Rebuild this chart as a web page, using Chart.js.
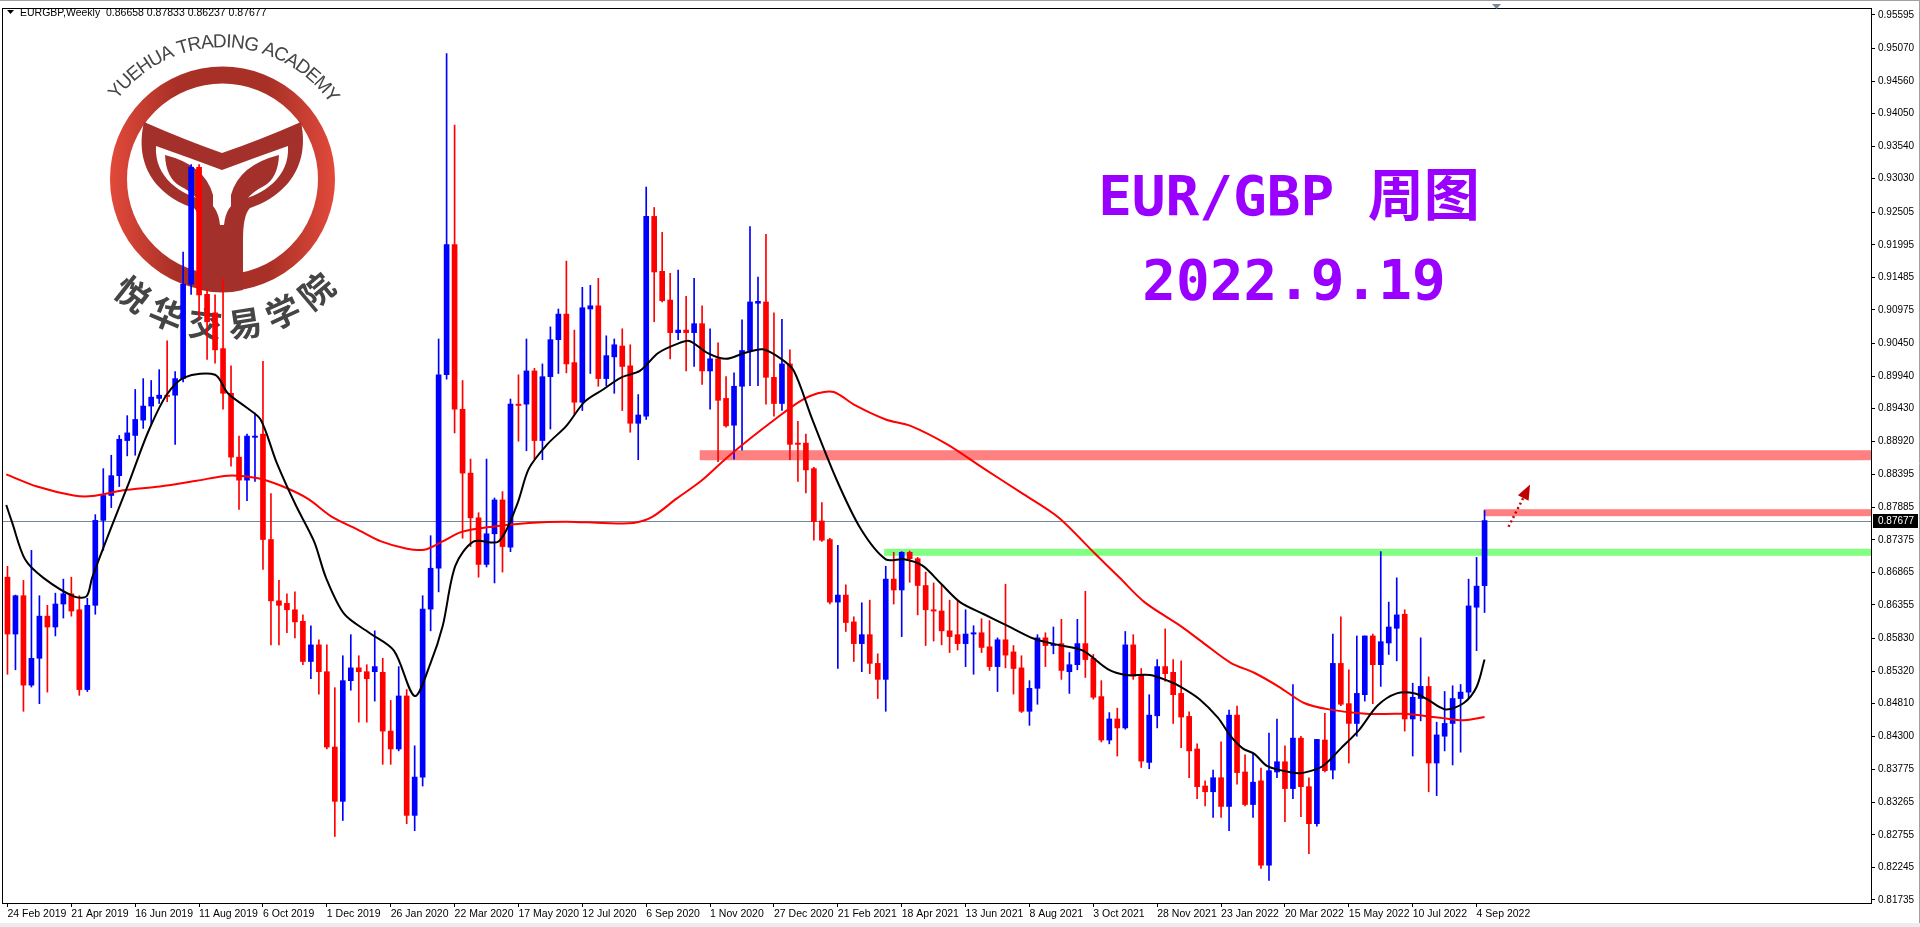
<!DOCTYPE html>
<html><head><meta charset="utf-8">
<script src="https://cdn.jsdelivr.net/npm/chart.js@4.4.1/dist/chart.umd.min.js"></script>
<style>html,body{margin:0;padding:0;background:#fff;overflow:hidden}#wrap{width:1920px;height:927px}</style>
</head><body><div id="wrap"><canvas id="c" width="1920" height="927"></canvas></div>
<script>
const opens=[0.8679,0.8590,0.8650,0.8510,0.8552,0.8618,0.8601,0.8637,0.8653,0.8628,
0.8503,0.8635,0.8768,0.8807,0.8838,0.8893,0.8901,0.8925,0.8947,0.8959,
0.8964,0.8964,0.8990,0.9138,0.9321,0.9122,0.9093,0.9037,0.8967,0.8867,
0.8831,0.8898,0.8903,0.8738,0.8642,0.8638,0.8628,0.8610,0.8547,0.8573,
0.8531,0.8413,0.8328,0.8517,0.8537,0.8531,0.8531,0.8530,0.8438,0.8410,
0.8493,0.8306,0.8366,0.8629,0.8693,0.8996,0.9200,0.8942,0.8842,0.8772,
0.8699,0.8747,0.8800,0.8726,0.8950,0.8950,0.9002,0.8893,0.8993,0.9051,
0.9091,0.9015,0.8953,0.9099,0.9104,0.8990,0.9024,0.9041,0.9010,0.8920,
0.8931,0.9244,0.9158,0.9113,0.9062,0.9066,0.9062,0.9076,0.9002,0.9021,
0.8959,0.8917,0.8978,0.9034,0.9108,0.9110,0.8992,0.8951,0.9013,0.8889,
0.8889,0.8849,0.8767,0.8738,0.8640,0.8651,0.8609,0.8575,0.8589,0.8544,
0.8519,0.8676,0.8659,0.8718,0.8708,0.8666,0.8628,0.8626,0.8595,0.8589,
0.8575,0.8590,0.8592,0.8570,0.8539,0.8581,0.8562,0.8537,0.8469,0.8505,
0.8584,0.8572,0.8575,0.8531,0.8542,0.8575,0.8552,0.8492,0.8424,0.8457,
0.8443,0.8573,0.8527,0.8389,0.8462,0.8539,0.8530,0.8497,0.8461,0.8410,
0.8352,0.8343,0.8365,0.8320,0.8463,0.8374,0.8323,0.8360,0.8228,0.8374,
0.8390,0.8348,0.8427,0.8351,0.8293,0.8424,0.8377,0.8544,0.8481,0.8450,
0.8495,0.8587,0.8542,0.8576,0.8599,0.8621,0.8457,0.8489,0.8508,0.8388,
0.8430,0.8450,0.8489,0.8499,0.8632,0.86658];
const highs=[0.8696,0.8651,0.8674,0.8721,0.8650,0.8635,0.8654,0.8676,0.8679,0.8650,
0.8646,0.8777,0.8849,0.8870,0.8901,0.8932,0.8973,0.8990,0.8987,0.9004,
0.9049,0.9001,0.9188,0.9325,0.9325,0.9130,0.9121,0.9146,0.9010,0.8900,
0.8903,0.8936,0.9017,0.8810,0.8674,0.8653,0.8656,0.8620,0.8603,0.8581,
0.8573,0.8506,0.8556,0.8589,0.8556,0.8542,0.8595,0.8552,0.8486,0.8539,
0.8503,0.8415,0.8650,0.8744,0.9052,0.9499,0.9387,0.8987,0.8864,0.8780,
0.8864,0.8803,0.8813,0.8958,0.8996,0.9052,0.9006,0.9013,0.9071,0.9099,
0.9174,0.9066,0.9133,0.9136,0.9147,0.9057,0.9052,0.9068,0.9043,0.8965,
0.9290,0.9258,0.9219,0.9155,0.9160,0.9119,0.9147,0.9104,0.9068,0.9046,
0.8993,0.8999,0.9082,0.9228,0.9149,0.9216,0.9093,0.9083,0.9035,0.8923,
0.8903,0.8851,0.8796,0.8740,0.8729,0.8667,0.8617,0.8639,0.8643,0.8559,
0.8696,0.8718,0.8719,0.8720,0.8710,0.8687,0.8670,0.8667,0.8643,0.8642,
0.8628,0.8603,0.8614,0.8611,0.8584,0.8668,0.8572,0.8556,0.8517,0.8589,
0.8592,0.8601,0.8613,0.8561,0.8613,0.8657,0.8558,0.8517,0.8467,0.8474,
0.8594,0.8589,0.8536,0.8495,0.8550,0.8598,0.8550,0.8548,0.8468,0.8418,
0.8360,0.8377,0.8421,0.8471,0.8477,0.8401,0.8404,0.8380,0.8435,0.8457,
0.8415,0.8511,0.8430,0.8365,0.8425,0.8466,0.8590,0.8617,0.8534,0.8587,
0.8587,0.8590,0.8719,0.8640,0.8678,0.8628,0.8513,0.8584,0.8523,0.8452,
0.8500,0.8509,0.8511,0.8676,0.8710,0.87833];
const lows=[0.8527,0.8534,0.8469,0.8507,0.8481,0.8499,0.8587,0.8615,0.8618,0.8494,
0.8500,0.8621,0.8721,0.8788,0.8821,0.8869,0.8870,0.8912,0.8918,0.8951,
0.8954,0.8887,0.8985,0.9122,0.9085,0.9020,0.9014,0.8942,0.8853,0.8785,
0.8799,0.8829,0.8691,0.8573,0.8573,0.8592,0.8584,0.8542,0.8520,0.8496,
0.8410,0.8273,0.8298,0.8502,0.8452,0.8452,0.8485,0.8386,0.8386,0.8407,
0.8293,0.8282,0.8352,0.8595,0.8656,0.8989,0.8905,0.8740,0.8727,0.8679,
0.8695,0.8670,0.8687,0.8719,0.8892,0.8877,0.8864,0.8863,0.8911,0.8998,
0.8999,0.8934,0.8940,0.8998,0.8978,0.8979,0.8967,0.8940,0.8906,0.8863,
0.8926,0.9079,0.9110,0.9021,0.9051,0.9002,0.9009,0.8981,0.8942,0.8860,
0.8914,0.8864,0.8878,0.8979,0.8979,0.8950,0.8931,0.8940,0.8863,0.8829,
0.8811,0.8737,0.8735,0.8637,0.8536,0.8594,0.8547,0.8531,0.8528,0.8489,
0.8469,0.8637,0.8586,0.8671,0.8620,0.8572,0.8579,0.8573,0.8561,0.8565,
0.8539,0.8527,0.8561,0.8533,0.8500,0.8537,0.8496,0.8467,0.8447,0.8480,
0.8539,0.8559,0.8519,0.8497,0.8534,0.8522,0.8488,0.8421,0.8418,0.8399,
0.8441,0.8519,0.8381,0.8379,0.8443,0.8516,0.8450,0.8412,0.8365,0.8332,
0.8321,0.8303,0.8303,0.8282,0.8355,0.8321,0.8303,0.8223,0.8204,0.8365,
0.8296,0.8332,0.8304,0.8246,0.8289,0.8374,0.8363,0.8478,0.8388,0.8430,
0.8485,0.8481,0.8508,0.8558,0.8548,0.8438,0.8399,0.8454,0.8343,0.8337,
0.8407,0.8385,0.8405,0.8489,0.8564,0.86237];
const closes=[0.8590,0.8650,0.8510,0.8552,0.8618,0.8601,0.8637,0.8653,0.8626,0.8503,
0.8635,0.8768,0.8807,0.8838,0.8895,0.8905,0.8926,0.8947,0.8961,0.8964,
0.8962,0.8990,0.9138,0.9321,0.9121,0.9079,0.9035,0.8967,0.8867,0.8831,
0.8900,0.8900,0.8738,0.8642,0.8635,0.8628,0.8609,0.8547,0.8573,0.8531,
0.8413,0.8328,0.8517,0.8537,0.8531,0.8520,0.8539,0.8438,0.8410,0.8493,
0.8306,0.8366,0.8629,0.8693,0.8996,0.9200,0.8942,0.8842,0.8772,0.8699,
0.8747,0.8800,0.8727,0.8950,0.8948,0.9002,0.8893,0.8993,0.9051,0.9091,
0.9013,0.8953,0.9101,0.9104,0.8990,0.9026,0.9043,0.9009,0.8920,0.8933,
0.9244,0.9157,0.9112,0.9062,0.9066,0.9062,0.9076,0.9002,0.9021,0.8956,
0.8916,0.8978,0.9034,0.9110,0.9111,0.8992,0.8951,0.9013,0.8887,0.8887,
0.8847,0.8766,0.8737,0.8640,0.8651,0.8608,0.8575,0.8589,0.8544,0.8519,
0.8676,0.8659,0.8718,0.8708,0.8666,0.8628,0.8626,0.8595,0.8586,0.8575,
0.8590,0.8592,0.8569,0.8539,0.8581,0.8557,0.8536,0.8469,0.8505,0.8584,
0.8572,0.8574,0.8533,0.8542,0.8575,0.8550,0.8491,0.8424,0.8457,0.8443,
0.8573,0.8524,0.8391,0.8463,0.8539,0.8528,0.8495,0.8460,0.8407,0.8351,
0.8343,0.8365,0.8320,0.8463,0.8373,0.8323,0.8358,0.8228,0.8376,0.8390,
0.8348,0.8427,0.8351,0.8293,0.8425,0.8376,0.8544,0.8480,0.8450,0.8497,
0.8587,0.8542,0.8578,0.8601,0.8620,0.8457,0.8491,0.8508,0.8388,0.8432,
0.8450,0.8489,0.8499,0.8634,0.8665,0.87677];

// moving averages (week index, price)
const maFastWeeks=[-0.15,0.6,2.2,4.5,8.3,9.9,10.6,12.9,15.3,17.6,19.9,22.2,26.0,27.6,29.9,31.7,33.7,36.1,38.4,39.9,42.2,45.3,48.4,51.0,53.0,54.5,56.1,58.4,61.5,63.8,65.3,67.6,70.0,72.3,74.6,76.9,79.2,81.5,83.8,85.4,87.7,90.0,92.3,94.6,96.9,98.5,100.8,103.9,106.9,110.0,112.3,114.6,116.9,119.3,122.3,125.4,128.5,131.6,134.7,137.8,140.1,143.1,145.5,147.0,149.3,151.6,153.2,154.7,156.2,157.8,160.9,162.4,164.7,167.0,169.3,171.6,174.0,176.3,177.8,180.1,182.4,184.0,185.0];
const maFastValues=[0.8792,0.8764,0.8707,0.8678,0.8649,0.8649,0.8678,0.8754,0.8830,0.8906,0.8964,0.8992,0.8996,0.8967,0.8945,0.8926,0.8859,0.8792,0.8735,0.8678,0.8621,0.8592,0.8564,0.8493,0.8545,0.8602,0.8697,0.8735,0.8735,0.8792,0.8849,0.8887,0.8916,0.8954,0.8973,0.8992,0.9002,0.9030,0.9044,0.9049,0.9030,0.9021,0.9030,0.9036,0.9021,0.9002,0.8926,0.8830,0.8754,0.8707,0.8707,0.8697,0.8669,0.8640,0.8621,0.8602,0.8583,0.8573,0.8564,0.8535,0.8526,0.8526,0.8516,0.8507,0.8488,0.8459,0.8430,0.8411,0.8402,0.8383,0.8373,0.8373,0.8383,0.8411,0.8440,0.8478,0.8497,0.8497,0.8488,0.8472,0.8482,0.8507,0.8550];
const maSlowWeeks=[-0.15,3.7,8.3,10.6,14.5,19.1,23.7,27.6,31.4,34.5,37.6,40.7,43.8,46.8,49.9,52.2,54.5,56.9,60.7,65.3,70.0,74.6,78.4,80.7,83.8,86.9,90.0,93.1,96.1,99.2,101.5,103.5,106.2,110.0,113.1,117.7,122.3,127.0,131.6,136.2,139.3,142.4,147.0,150.1,153.2,156.2,159.3,162.4,165.5,170.1,174.7,179.4,182.4,185.0];
const maSlowValues=[0.8840,0.8821,0.8807,0.8806,0.8815,0.8821,0.8830,0.8838,0.8834,0.8821,0.8802,0.8773,0.8754,0.8735,0.8724,0.8722,0.8735,0.8750,0.8758,0.8764,0.8766,0.8764,0.8764,0.8773,0.8802,0.8830,0.8865,0.8897,0.8926,0.8954,0.8967,0.8969,0.8948,0.8926,0.8916,0.8887,0.8849,0.8811,0.8773,0.8716,0.8678,0.8640,0.8602,0.8573,0.8545,0.8529,0.8507,0.8482,0.8472,0.8465,0.8465,0.8459,0.8455,0.8460];

const dateTickWeeks=[0,8,16,24,32,40,48,56,64,72,80,88,96,104,112,120,128,136,144,152,160,168,176,184];
const dateLabels=["24 Feb 2019","21 Apr 2019","16 Jun 2019","11 Aug 2019","6 Oct 2019","1 Dec 2019","26 Jan 2020","22 Mar 2020","17 May 2020","12 Jul 2020","6 Sep 2020","1 Nov 2020","27 Dec 2020","21 Feb 2021","18 Apr 2021","13 Jun 2021","8 Aug 2021","3 Oct 2021","28 Nov 2021","23 Jan 2022","20 Mar 2022","15 May 2022","10 Jul 2022","4 Sep 2022"];
const priceTicks=[0.95595,0.95070,0.94560,0.94050,0.93540,0.93030,0.92505,0.91995,0.91485,0.90975,0.90450,0.89940,0.89430,0.88920,0.88395,0.87885,0.87375,0.86865,0.86355,0.85830,0.85320,0.84810,0.84300,0.83775,0.83265,0.82755,0.82245,0.81735];

const resistanceHigh={from:86.7,price:0.8870};
const resistanceLow={from:184.9,price:0.8780};
const supportLine={from:109.8,price:0.8718};
const lastPrice=0.87677;
const arrowFrom={x:188.0,y:0.8758}, arrowTo={x:190.7,y:0.8824};

const BLUE='#0000ff', RED='#ff0000';
const colors=closes.map((c,i)=>c>=opens[i]?BLUE:RED);
const bodies=closes.map((c,i)=>({x:i,y:[opens[i],c]}));
const wicks=closes.map((c,i)=>({x:i,y:[lows[i],highs[i]]}));

function drawLogo(ctx){
  const cx=222.5, cy=179;
  ctx.save();
  const g=ctx.createLinearGradient(cx-113,0,cx+113,0);
  g.addColorStop(0,'#e24a3b');g.addColorStop(0.3,'#a83026');g.addColorStop(0.7,'#a83026');g.addColorStop(1,'#e24a3b');
  ctx.strokeStyle=g; ctx.lineWidth=17;
  ctx.beginPath(); ctx.arc(cx,cy,104,0,Math.PI*2); ctx.stroke();
  ctx.fillStyle='#a3302a';
  ctx.beginPath();
  ctx.moveTo(144,122);
  ctx.quadraticCurveTo(185,140,222,153);
  ctx.quadraticCurveTo(260,140,301,122);
  ctx.bezierCurveTo(312,175,275,200,250,208);
  ctx.quadraticCurveTo(243,215,243,240);
  ctx.lineTo(243,290);
  ctx.quadraticCurveTo(222,295,201,290);
  ctx.lineTo(201,240);
  ctx.quadraticCurveTo(201,215,194,208);
  ctx.bezierCurveTo(168,200,132,175,144,122);
  ctx.closePath(); ctx.fill();
  ctx.fillStyle='#ffffff';
  ctx.beginPath();
  ctx.moveTo(156,146);
  ctx.quadraticCurveTo(190,158,222,170);
  ctx.quadraticCurveTo(254,158,288,146);
  ctx.bezierCurveTo(290,178,262,195,240,200);
  ctx.quadraticCurveTo(226,205,224,225);
  ctx.lineTo(220,225);
  ctx.quadraticCurveTo(218,205,204,200);
  ctx.bezierCurveTo(182,195,154,178,156,146);
  ctx.closePath(); ctx.fill();
  ctx.fillStyle='#a3302a';
  ctx.beginPath();
  ctx.moveTo(165,155);ctx.quadraticCurveTo(205,165,213,195);ctx.lineTo(213,290);ctx.lineTo(206,290);ctx.lineTo(206,215);
  ctx.quadraticCurveTo(200,196,180,186);ctx.quadraticCurveTo(166,178,165,155);ctx.closePath();ctx.fill();
  ctx.beginPath();
  ctx.moveTo(279,155);ctx.quadraticCurveTo(239,165,231,195);ctx.lineTo(231,290);ctx.lineTo(238,290);ctx.lineTo(238,215);
  ctx.quadraticCurveTo(244,196,264,186);ctx.quadraticCurveTo(278,178,279,155);ctx.closePath();ctx.fill();
  ctx.fillStyle='#454545';
  ctx.font='19px "Liberation Sans", Arial, sans-serif';
  ctx.textAlign='center'; ctx.textBaseline='middle';
  const top='YUEHUA TRADING ACADEMY';
  const a0=-143*Math.PI/180, a1=-35*Math.PI/180;
  const ws=[...top].map(ch=>ctx.measureText(ch).width);
  const tot=ws.reduce((a,b)=>a+b,0);
  let acc=0;
  [...top].forEach((ch,k)=>{
    const t=(acc+ws[k]/2)/tot; acc+=ws[k];
    const a=a0+(a1-a0)*t;
    ctx.save(); ctx.translate(cx+137*Math.cos(a),cy+137*Math.sin(a)); ctx.rotate(a+Math.PI/2);
    ctx.fillText(ch,0,0); ctx.restore();
  });
  ctx.font='bold 34px "Noto Sans CJK SC", sans-serif';
  const zh='悦华交易学院';
  const b0=128*Math.PI/180, b1=50*Math.PI/180;
  [...zh].forEach((ch,k)=>{
    const a=b0+(b1-b0)*k/(zh.length-1);
    ctx.save(); ctx.translate(cx+146*Math.cos(a),cy+146*Math.sin(a)); ctx.rotate(a-Math.PI/2);
    ctx.fillText(ch,0,0); ctx.restore();
  });
  ctx.restore();
}

const decor={
  id:'decor',
  beforeDatasetsDraw(chart){
    const {ctx,chartArea:ca,scales:{x,y}}=chart;
    drawLogo(ctx);
    ctx.save();
    ctx.beginPath();ctx.rect(ca.left,ca.top,ca.right-ca.left,ca.bottom-ca.top);ctx.clip();
    ctx.fillStyle='#ff8080';
    let py=y.getPixelForValue(resistanceHigh.price);
    ctx.fillRect(x.getPixelForValue(resistanceHigh.from),py-5,ca.right,10);
    py=y.getPixelForValue(resistanceLow.price);
    ctx.fillRect(x.getPixelForValue(resistanceLow.from),py-3.5,ca.right,7);
    ctx.fillStyle='#80ff80';
    py=y.getPixelForValue(supportLine.price);
    ctx.fillRect(x.getPixelForValue(supportLine.from),py-3.5,ca.right,7);
    ctx.strokeStyle='#778899';ctx.lineWidth=1;
    py=Math.round(y.getPixelForValue(lastPrice))+0.5;
    ctx.beginPath();ctx.moveTo(ca.left,py);ctx.lineTo(ca.right,py);ctx.stroke();
    ctx.restore();
  },
  afterDraw(chart){
    const {ctx,chartArea:ca,scales:{x,y}}=chart;
    ctx.save();
    ctx.strokeStyle='#000';ctx.lineWidth=1;
    ctx.strokeRect(ca.left-0.5,ca.top-0.5,ca.right-ca.left+1,ca.bottom-ca.top+1);
    ctx.strokeStyle='#a0a0a0';
    ctx.beginPath();ctx.moveTo(0,0.5);ctx.lineTo(1920,0.5);ctx.moveTo(1919.5,0);ctx.lineTo(1919.5,927);ctx.stroke();
    ctx.fillStyle='#ececec';ctx.fillRect(0,923,1920,4);
    ctx.fillStyle='#000';
    ctx.beginPath();ctx.moveTo(7,10);ctx.lineTo(14,10);ctx.lineTo(10.5,14);ctx.closePath();ctx.fill();
    ctx.font='10.5px "Liberation Sans", Arial, sans-serif';ctx.textBaseline='middle';ctx.textAlign='left';
    ctx.fillText('EURGBP,Weekly  0.86658 0.87833 0.86237 0.87677',20,13);
    ctx.fillStyle='#7a8a9a';
    ctx.beginPath();ctx.moveTo(1492,4);ctx.lineTo(1501,4);ctx.lineTo(1496.5,9);ctx.closePath();ctx.fill();
    ctx.fillStyle='#9900ff';ctx.textAlign='center';
    ctx.font='bold 56px "DejaVu Sans Mono", "Noto Sans CJK SC", monospace';
    ctx.fillText('EUR/GBP 周图',1289,200);
    ctx.fillText('2022.9.19',1294,284);
    const py=Math.round(y.getPixelForValue(lastPrice));
    ctx.fillStyle='#000';ctx.fillRect(1873,py-7,45,14);
    ctx.fillStyle='#fff';ctx.textAlign='left';ctx.font='10px "Liberation Sans", Arial, sans-serif';
    ctx.fillText(lastPrice.toFixed(5),1878,py+0.5);
    const x0=x.getPixelForValue(arrowFrom.x),y0=y.getPixelForValue(arrowFrom.y);
    const x1=x.getPixelForValue(arrowTo.x),y1=y.getPixelForValue(arrowTo.y);
    const ang=Math.atan2(y1-y0,x1-x0);
    const bx=x1-15*Math.cos(ang),by=y1-15*Math.sin(ang);
    ctx.strokeStyle='#c00000';ctx.lineWidth=2.5;ctx.setLineDash([2,3]);
    ctx.beginPath();ctx.moveTo(x0,y0);ctx.lineTo(bx,by);ctx.stroke();ctx.setLineDash([]);
    ctx.fillStyle='#c00000';ctx.beginPath();
    ctx.moveTo(x1,y1);
    ctx.lineTo(bx+6*Math.sin(ang),by-6*Math.cos(ang));
    ctx.lineTo(bx-6*Math.sin(ang),by+6*Math.cos(ang));
    ctx.closePath();ctx.fill();
    ctx.restore();
  }
};

new Chart(document.getElementById('c'),{
  data:{datasets:[
    {type:'bar',data:wicks,backgroundColor:colors,borderWidth:0,barThickness:1,grouped:false,order:3},
    {type:'bar',data:bodies,backgroundColor:colors,borderWidth:0,barThickness:5,minBarLength:1,grouped:false,order:2},
    {type:'line',data:maSlowWeeks.map((w,i)=>({x:w,y:maSlowValues[i]})),borderColor:'#ff0000',borderWidth:2,pointRadius:0,tension:0.3,order:1},
    {type:'line',data:maFastWeeks.map((w,i)=>({x:w,y:maFastValues[i]})),borderColor:'#000000',borderWidth:2,pointRadius:0,tension:0.3,order:0}
  ]},
  options:{
    responsive:false,animation:false,devicePixelRatio:1,
    layout:{padding:{left:3,top:3,right:0,bottom:0}},
    plugins:{legend:{display:false},tooltip:{enabled:false}},
    scales:{
      x:{type:'linear',offset:false,min:-0.56,max:233.4,
        grid:{drawOnChartArea:false,drawTicks:true,tickLength:4,color:'#000',offset:false},
        border:{display:false},
        afterBuildTicks(s){s.ticks=dateTickWeeks.map(v=>({value:v}));},
        afterFit(s){s.height=24;},
        ticks:{autoSkip:false,maxRotation:0,align:'start',padding:1,color:'#000',
          font:{family:'"Liberation Sans", Arial, sans-serif',size:10.5},
          callback:(v)=>{const k=dateTickWeeks.indexOf(v);return k>=0?dateLabels[k]:'';}}},
      y:{type:'linear',position:'right',min:0.81688,max:0.95688,
        grid:{drawOnChartArea:false,drawTicks:true,tickLength:4,color:'#000'},
        border:{display:false},
        afterBuildTicks(s){s.ticks=priceTicks.map(v=>({value:v}));},
        afterFit(s){s.width=49;},
        ticks:{padding:3,color:'#000',font:{family:'"Liberation Sans", Arial, sans-serif',size:10},
          callback:(v)=>v.toFixed(5)}}
    }
  },
  plugins:[decor]
});
</script></body></html>
